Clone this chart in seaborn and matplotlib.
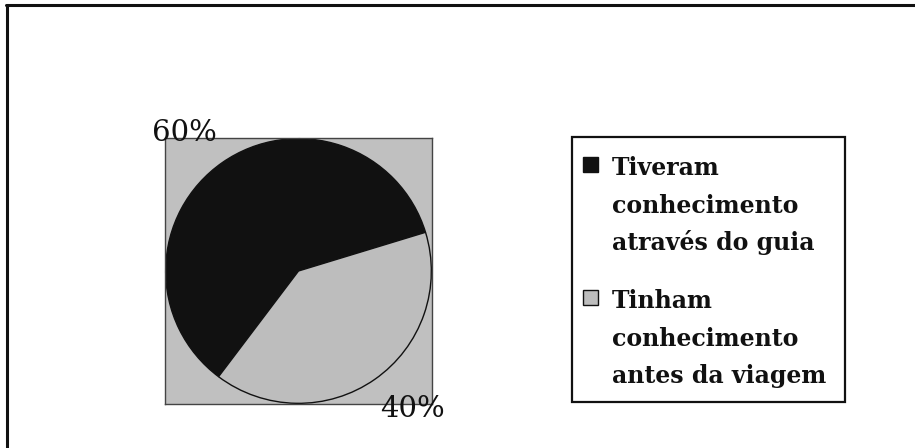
import matplotlib
matplotlib.use("Agg")
import numpy as np
import matplotlib.pyplot as plt
import seaborn as sns
from matplotlib.patches import Rectangle
from matplotlib.lines import Line2D

# ---- data ----
categories = ["Tiveram\nconhecimento\natravés do guia",
              "Tinham\nconhecimento\nantes da viagem"]
values = [60, 40]
pct_labels = [f"{v}%" for v in values]
colors = ["#111111", "#bdbdbd"]

sns.set_theme(style="white")
plt.rcParams["font.family"] = ["DejaVu Serif"]

W, H = 915, 448
fig = plt.figure(figsize=(W / 100, H / 100), dpi=100)
fig.patch.set_facecolor("white")

def fx(px):
    return px / W

def fy(py):
    return 1 - py / H

# plot area
ax = fig.add_axes([fx(165), fy(404), fx(432) - fx(165), fy(138) - fy(404)])
wedges, texts = ax.pie(values, colors=colors, startangle=17, counterclock=True,
                       radius=0.995, labels=pct_labels, labeldistance=1.34,
                       wedgeprops=dict(edgecolor="#111111", linewidth=1.0),
                       textprops=dict(fontsize=21, color="#111111"))
# labels sit slightly counter-clockwise of each wedge's middle
for w, t in zip(wedges, texts):
    ang = np.deg2rad((w.theta1 + w.theta2) / 2 + 4.5)
    t.set_position((1.34 * np.cos(ang), 1.34 * np.sin(ang)))
    t.set_ha("center")
    t.set_va("center")
    t.set_clip_on(False)
ax.set_xlim(-1, 1)
ax.set_ylim(-1, 1)
ax.set_aspect("auto")
ax.set_frame_on(True)
ax.set_facecolor("#c0c0c0")
for s in ax.spines.values():
    s.set_visible(True)
    s.set_color("#444444")
    s.set_linewidth(1.0)
ax.set_xticks([])
ax.set_yticks([])

# legend (manual, to align the handle with the first text line)
fig.patches.append(Rectangle((fx(572), fy(402)), fx(845) - fx(572), fy(137) - fy(402),
                             transform=fig.transFigure, facecolor="white",
                             edgecolor="#111111", linewidth=1.6, zorder=1))
block_top = [157, 290]
for i, (lab, col) in enumerate(zip(categories, colors)):
    y0 = block_top[i]
    fig.patches.append(Rectangle((fx(583), fy(y0 + 15)), fx(15), 15 / H,
                                 transform=fig.transFigure, facecolor=col,
                                 edgecolor="#111111", linewidth=1.0, zorder=2))
    for j, line in enumerate(lab.split("\n")):
        fig.text(fx(612), fy(y0 + 18 + 37.5 * j), line, ha="left", va="baseline",
                 fontsize=17, fontweight="bold", color="#111111")

# outer frame (left and top edges)
fig.lines.append(Line2D([fx(7), fx(7)], [0, fy(5)], transform=fig.transFigure,
                        color="#111111", linewidth=2.2))
fig.lines.append(Line2D([fx(6), 1], [fy(5), fy(5)], transform=fig.transFigure,
                        color="#111111", linewidth=2.2))

fig.savefig("out.png", dpi=100)
